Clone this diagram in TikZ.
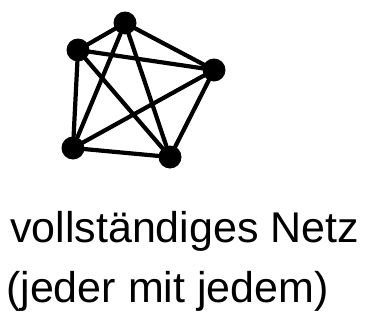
\documentclass[tikz,border=0pt]{standalone}
\usepackage{fontspec}
\setmainfont{Liberation Sans}
\begin{document}
\begin{tikzpicture}[x=1pt,y=-1pt,
  vertex/.style={circle,fill=black,inner sep=0pt,minimum size=23pt},
  edge/.style={line width=4.2pt,line cap=round,line join=round},
  label/.style={anchor=base west,inner sep=0pt,font=\fontsize{43}{50}\selectfont}]
\useasboundingbox (0,0) rectangle (370,335);
\node[vertex] (t) at (125,23) {};
\node[vertex] (l) at (78,50) {};
\node[vertex] (r) at (214,70) {};
\node[vertex] (bl) at (73,148) {};
\node[vertex] (br) at (170,157) {};
\foreach \a/\b in {t/l,t/r,t/bl,t/br,l/r,l/bl,l/br,r/bl,r/br,bl/br}
  \draw[edge] (\a) -- (\b);
\node[label] (line1) at (10,242) {vollständiges Netz};
\node[label] (line2) at (6,302) {(jeder mit jedem)};
\end{tikzpicture}
\end{document}
